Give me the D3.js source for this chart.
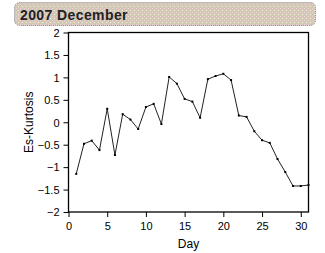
<!DOCTYPE html>
<html lang="en">
<head>
<meta charset="UTF-8">
<title>2007 December</title>
<style>
  body { margin: 0; background: #fff; }
  svg { display: block; font-family: "Liberation Sans", Arial, sans-serif; }
</style>
</head>
<body>
<svg width="325" height="253"></svg>
<script src="https://d3js.org/d3.v7.min.js"></script>
<script>
const title = "2007 December";
const xLabel = "Day";
const yLabel = "Es-Kurtosis";

const days = d3.range(1, 32);
const kurtosis = [-1.15, -0.48, -0.41, -0.62, 0.30, -0.73, 0.18, 0.06, -0.15, 0.34,
                  0.41, -0.04, 1.01, 0.86, 0.52, 0.46, 0.10, 0.96, 1.03, 1.08,
                  0.94, 0.15, 0.12, -0.20, -0.40, -0.46, -0.82, -1.11, -1.42, -1.42, -1.40];
const xTicks = [0, 5, 10, 15, 20, 25, 30];
const yTicks = [-2, -1.5, -1, -0.5, 0, 0.5, 1, 1.5, 2];

const data = days.map((d, i) => ({day: d, value: kurtosis[i]}));

const svg = d3.select("svg");
const margin = {top: 32.5, left: 68.5, right: 16.5, bottom: 41};
const width = 325 - margin.left - margin.right;
const height = 253 - margin.top - margin.bottom;

// title banner with dotted fill
const defs = svg.append("defs");
const pat = defs.append("pattern")
    .attr("id", "dots")
    .attr("width", 4).attr("height", 4)
    .attr("patternUnits", "userSpaceOnUse");
pat.append("rect").attr("width", 4).attr("height", 4).attr("fill", "#d2c8b9");
pat.append("rect").attr("x", 0).attr("y", 0).attr("width", 1).attr("height", 1).attr("fill", "#f4cfd6");
pat.append("rect").attr("x", 2).attr("y", 2).attr("width", 1).attr("height", 1).attr("fill", "#f5f2cc");

svg.append("rect")
    .attr("x", 14.5).attr("y", 2.5)
    .attr("width", 301).attr("height", 23)
    .attr("rx", 5)
    .attr("fill", "url(#dots)")
    .attr("stroke", "#8a8a8a")
    .attr("stroke-dasharray", "1,1");

svg.append("text")
    .attr("x", 20).attr("y", 19.5)
    .attr("font-size", 14)
    .attr("font-weight", "bold")
    .attr("letter-spacing", 0.4)
    .attr("fill", "#222")
    .text(title);

const g = svg.append("g").attr("transform", `translate(${margin.left},${margin.top})`);

const x = d3.scaleLinear().domain([0, 31]).range([0, width]);
const y = d3.scaleLinear().domain([-2, 2]).range([height, 0]);

g.append("rect")
    .attr("width", width).attr("height", height)
    .attr("fill", "none").attr("stroke", "#000").attr("stroke-width", 1.3);

const xAxis = g.append("g")
    .attr("transform", `translate(0,${height})`)
    .call(d3.axisBottom(x).tickValues(xTicks).tickSize(5).tickSizeOuter(0));
const yAxis = g.append("g")
    .call(d3.axisLeft(y).tickValues(yTicks).tickSize(5).tickSizeOuter(0)
        .tickFormat(d3.format("")));

[xAxis, yAxis].forEach(a => {
  a.select(".domain").remove();
  a.selectAll("line").attr("stroke", "#000");
  a.selectAll("text").attr("font-size", 11).attr("fill", "#000")
      .attr("font-family", "'Liberation Sans', Arial, sans-serif");
});
xAxis.selectAll("text").attr("dy", "0.95em");
yAxis.selectAll("text").attr("dx", "-1").attr("dy", "0.35em");

const line = d3.line().x(d => x(d.day)).y(d => y(d.value));
g.append("path")
    .datum(data)
    .attr("d", line)
    .attr("fill", "none")
    .attr("stroke", "#222")
    .attr("stroke-width", 1);

g.selectAll(".pt")
    .data(data)
    .join("rect")
    .attr("class", "pt")
    .attr("x", d => x(d.day) - 1)
    .attr("y", d => y(d.value) - 1)
    .attr("width", 2).attr("height", 2)
    .attr("fill", "#000");

svg.append("text")
    .attr("x", margin.left + x(15.5)).attr("y", 248)
    .attr("text-anchor", "middle")
    .attr("font-size", 12)
    .text(xLabel);

svg.append("text")
    .attr("transform", `translate(33,${margin.top + height / 2}) rotate(-90)`)
    .attr("text-anchor", "middle")
    .attr("font-size", 12)
    .text(yLabel);
</script>
</body>
</html>
